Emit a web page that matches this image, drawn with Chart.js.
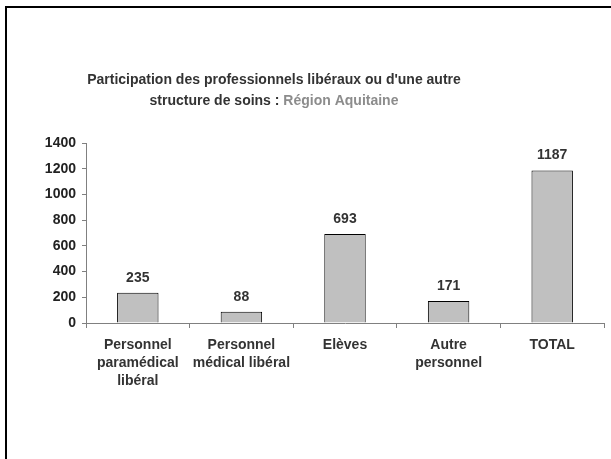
<!DOCTYPE html>
<html>
<head>
<meta charset="utf-8">
<script src="https://cdn.jsdelivr.net/npm/chart.js@4/dist/chart.umd.min.js"></script>
<style>
  html, body { margin: 0; padding: 0; background: #fff; overflow: hidden; }
  #frame { position: absolute; left: 5px; top: 6px; width: 700px; height: 600px;
           border-left: 2px solid #000; border-top: 2px solid #000; }
  #wrap { position: absolute; left: 0; top: 0; width: 611px; height: 459px; }
</style>
</head>
<body>
<div id="frame"></div>
<div id="wrap"><canvas id="chart"></canvas></div>
<script>
'use strict';

var CATEGORIES = [
  ['Personnel', 'paramédical', 'libéral'],
  ['Personnel', 'médical libéral'],
  'Elèves',
  ['Autre', 'personnel'],
  'TOTAL'
];
var VALUES = [235, 88, 693, 171, 1187];
var Y_MAX = 1400;
var Y_STEP = 200;
var TITLE_LINE1 = "Participation des professionnels libéraux ou d'une autre";
var TITLE_LINE2A = 'structure de soins : ';
var TITLE_LINE2B = 'Région Aquitaine';

var FONT = 'Arial, "Liberation Sans", sans-serif';

// title with two colours on the second line
var titlePlugin = {
  id: 'twoToneTitle',
  afterDraw: function (chart) {
    var c = chart.ctx;
    var cx = 274;
    c.save();
    c.font = 'bold 14px ' + FONT;
    c.textBaseline = 'middle';
    c.textAlign = 'center';
    c.fillStyle = '#333';
    c.fillText(TITLE_LINE1, cx, 80);
    var w1 = c.measureText(TITLE_LINE2A).width;
    var w2 = c.measureText(TITLE_LINE2B).width;
    var x0 = cx - (w1 + w2) / 2;
    c.textAlign = 'left';
    c.fillText(TITLE_LINE2A, x0, 101);
    c.fillStyle = '#8c8c8c';
    c.fillText(TITLE_LINE2B, x0 + w1, 101);
    c.restore();
  }
};

// value labels above the bars
var valuePlugin = {
  id: 'valueLabels',
  afterDatasetsDraw: function (chart) {
    var c = chart.ctx;
    var meta = chart.getDatasetMeta(0);
    c.save();
    c.font = 'bold 14px ' + FONT;
    c.fillStyle = '#333';
    c.textAlign = 'center';
    c.textBaseline = 'middle';
    meta.data.forEach(function (bar, i) {
      c.fillText(String(VALUES[i]), bar.x, bar.y - 15);
    });
    c.restore();
  }
};

var ctx = document.getElementById('chart').getContext('2d');
new Chart(ctx, {
  type: 'bar',
  data: {
    labels: CATEGORIES,
    datasets: [{
      data: VALUES,
      backgroundColor: '#c0c0c0',
      borderColor: '#000',
      borderWidth: 1,
      categoryPercentage: 1,
      barPercentage: 0.4
    }]
  },
  options: {
    responsive: true,
    maintainAspectRatio: false,
    animation: false,
    devicePixelRatio: 1,
    layout: { padding: { top: 143, right: 7, bottom: 0, left: 0 } },
    plugins: {
      legend: { display: false },
      title: { display: false },
      tooltip: { enabled: false }
    },
    scales: {
      x: {
        offset: true,
        grid: { offset: true, drawOnChartArea: false, color: '#808080', tickLength: 5 },
        border: { color: '#808080', width: 1 },
        ticks: {
          color: '#333',
          padding: 8,
          maxRotation: 0,
          autoSkip: false,
          font: { family: FONT, size: 14, weight: 'bold', lineHeight: 1.3 }
        },
        afterFit: function (scale) { scale.height = 136; }
      },
      y: {
        min: 0,
        max: Y_MAX,
        grid: { drawOnChartArea: false, color: '#808080', tickLength: 4 },
        border: { color: '#808080', width: 1 },
        ticks: {
          stepSize: Y_STEP,
          color: '#222',
          padding: 6,
          font: { family: FONT, size: 14, weight: 'bold' },
          callback: function (v) { return String(v); }
        },
        afterFit: function (scale) { scale.width = 86; }
      }
    }
  },
  plugins: [titlePlugin, valuePlugin]
});
</script>
</body>
</html>
